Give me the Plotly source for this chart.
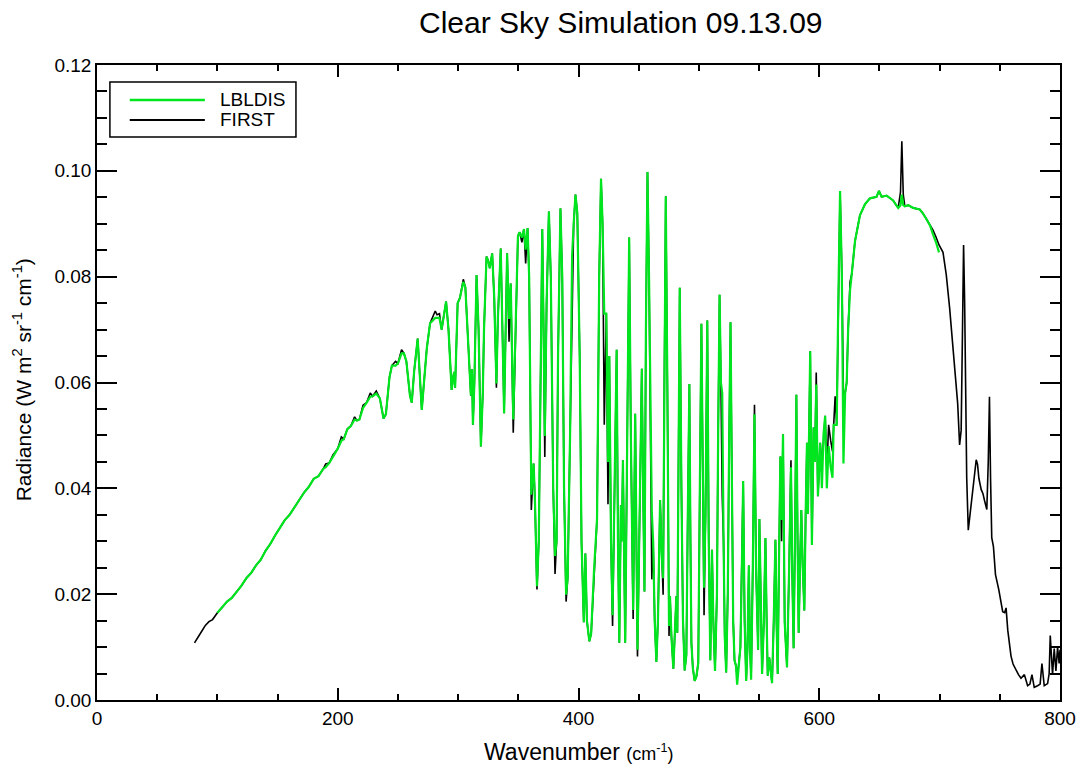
import plotly.graph_objects as go

# ---- FIRST radiance spectrum (W m^-2 sr^-1 cm^-1), read by wavenumber segment ----
# far-IR rising continuum
rise_wn = [81, 84, 87, 90, 93, 96, 100, 104, 108, 112,
           116, 120, 124, 128, 132, 136, 140, 144, 148, 152,
           156, 160, 164, 168, 172, 176, 180, 184, 188, 190,
           193, 196, 200, 203, 205, 208, 211, 214, 216, 218,
           221, 224, 227, 229]
rise_rad = [0.0108, 0.0118, 0.0130, 0.0141, 0.0148, 0.0152, 0.0165, 0.0175, 0.0186, 0.0193,
            0.0204, 0.0216, 0.0230, 0.0240, 0.0254, 0.0265, 0.0282, 0.0295, 0.0311, 0.0326,
            0.0340, 0.0350, 0.0363, 0.0378, 0.0392, 0.0403, 0.0418, 0.0423, 0.0437, 0.0446,
            0.0448, 0.0463, 0.0475, 0.0497, 0.0493, 0.0512, 0.0518, 0.0535, 0.0528, 0.0530,
            0.0557, 0.0562, 0.0580, 0.0574]

# water vapour rotational lines, 230-358 cm-1
h2o_a_wn = [232, 235, 238, 240, 243, 245, 248, 250, 253, 255,
            257, 260, 261.5, 263.5, 266.4, 268, 269.8, 272, 274, 276.7,
            279, 281, 282.5, 284.5, 286.3, 288, 290, 292, 294.6, 296,
            296.8, 297.5, 299.6, 301.5, 304.3, 306, 308, 310.6, 311.5, 312.3,
            313.5, 315.3, 317, 318.9, 320.5, 321.5, 323.6, 325, 326.3, 328.3,
            330, 331.8, 333, 335.4, 336.8, 338.2, 339.5, 340.7, 342.3, 343.7,
            345.8, 348, 349.7, 351.1, 353, 354.7, 356.1, 357.7]
h2o_a_rad = [0.0584, 0.0570, 0.0532, 0.0540, 0.0610, 0.0632, 0.0640, 0.0636, 0.0662, 0.0655,
             0.0640, 0.0575, 0.0562, 0.0622, 0.0683, 0.0620, 0.0548, 0.0610, 0.0665, 0.0712,
             0.0725, 0.0735, 0.0728, 0.0730, 0.0700, 0.0725, 0.0753, 0.0700, 0.0586, 0.0612,
             0.0620, 0.0590, 0.0750, 0.0760, 0.0795, 0.0780, 0.0700, 0.0575, 0.0625, 0.0520,
             0.0600, 0.0803, 0.0700, 0.0479, 0.0580, 0.0700, 0.0838, 0.0830, 0.0816, 0.0844,
             0.0760, 0.0590, 0.0720, 0.0853, 0.0700, 0.0542, 0.0700, 0.0844, 0.0677, 0.0787,
             0.0505, 0.0700, 0.0877, 0.0884, 0.0865, 0.0890, 0.0825, 0.0892]

# water vapour rotational lines, 359-490 cm-1
h2o_b_wn = [359, 360.8, 361.8, 362.7, 363.8, 365.5, 367, 368.5, 369.9, 371,
            372, 373.5, 375.4, 377, 378.2, 379, 380.5, 381.8, 383, 385,
            386.5, 388, 389.7, 391, 393, 394.7, 396, 397.5, 399, 401,
            402.5, 404.4, 405.7, 407, 409, 410.5, 413, 415.4, 417.2, 418.7,
            420, 421.4, 423.1, 424.5, 425.6, 427, 428.3, 430, 431.7, 432.8,
            433.9, 435.2, 436, 436.9, 438, 438.8, 440.5, 442.1, 443.5, 445.4,
            447.1, 448, 449, 450.8, 452.6, 453.7, 454.8, 456, 457.3, 458.6,
            460, 460.9, 462, 463.3, 464.7, 466, 467.8, 469, 470.3, 471.3,
            472.5, 473.8, 475.2, 476, 477.2, 478.8, 480, 481.3, 482.1, 483,
            484.1, 485.5, 486.8, 488.2, 489.6]
h2o_b_rad = [0.0800, 0.0359, 0.0420, 0.0447, 0.0380, 0.0209, 0.0300, 0.0600, 0.0890, 0.0700,
             0.0459, 0.0750, 0.0923, 0.0800, 0.0560, 0.0400, 0.0238, 0.0300, 0.0650, 0.0929,
             0.0800, 0.0400, 0.0186, 0.0230, 0.0500, 0.0740, 0.0900, 0.0955, 0.0920, 0.0650,
             0.0300, 0.0147, 0.0277, 0.0150, 0.0111, 0.0125, 0.0250, 0.0342, 0.0800, 0.0985,
             0.0900, 0.0520, 0.0730, 0.0370, 0.0650, 0.0300, 0.0140, 0.0400, 0.0662, 0.0300,
             0.0108, 0.0368, 0.0300, 0.0453, 0.0200, 0.0108, 0.0500, 0.0874, 0.0500, 0.0153,
             0.0541, 0.0250, 0.0082, 0.0350, 0.0626, 0.0400, 0.0205, 0.0700, 0.0998, 0.0800,
             0.0450, 0.0228, 0.0300, 0.0150, 0.0072, 0.0150, 0.0378, 0.0280, 0.0199, 0.0600,
             0.0952, 0.0600, 0.0121, 0.0196, 0.0120, 0.0059, 0.0120, 0.0196, 0.0127, 0.0450,
             0.0779, 0.0400, 0.0150, 0.0056, 0.0085]

# water vapour rotational lines, 490-630 cm-1
h2o_c_wn = [490.8, 492.1, 493, 493.8, 495, 496.5, 498, 499.5, 500.8, 502.1,
            503.2, 504.3, 505.5, 507, 508.2, 509.5, 510.9, 512, 513.4, 515,
            516, 517.2, 518.3, 519.4, 520.5, 521.5, 522.7, 524, 525.2, 526.3,
            527.5, 528.5, 529.6, 530.8, 531.8, 533, 534.5, 535.7, 536.8, 538,
            539.3, 540.4, 541.5, 542.5, 543.4, 544.8, 546.2, 547.5, 549.2, 550.3,
            551.4, 552.5, 554, 555.3, 556.3, 557.2, 558.5, 559.5, 560.8, 562.2,
            563.6, 564.5, 565.5, 566.5, 567.7, 568.7, 569.9, 571.3, 572.2, 573.2,
            575, 576.5, 577.5, 578.7, 579.8, 581, 582, 582.9, 584, 585.1,
            586.3, 587.6, 588.7, 589.8, 590.6, 591.5, 592.5, 593.9, 595.3, 596.4,
            597.5, 598.9, 600.8, 602.2, 603.5, 604.9, 606.3, 607.8, 609.5, 611,
            612, 613.2, 614.5, 615.8, 617.3, 618.8, 620.1, 621.5, 622.8, 624,
            625.6, 627, 629.7]
h2o_c_rad = [0.0350, 0.0597, 0.0300, 0.0108, 0.0060, 0.0036, 0.0045, 0.0070, 0.0400, 0.0711,
             0.0450, 0.0160, 0.0350, 0.0717, 0.0300, 0.0075, 0.0284, 0.0150, 0.0055, 0.0200,
             0.0500, 0.0766, 0.0600, 0.0385, 0.0300, 0.0120, 0.0052, 0.0200, 0.0500, 0.0714,
             0.0400, 0.0150, 0.0075, 0.0065, 0.0046, 0.0065, 0.0100, 0.0250, 0.0414, 0.0150,
             0.0036, 0.0100, 0.0254, 0.0100, 0.0039, 0.0250, 0.0558, 0.0250, 0.0095, 0.0342,
             0.0150, 0.0049, 0.0150, 0.0306, 0.0150, 0.0046, 0.0080, 0.0060, 0.0032, 0.0150,
             0.0303, 0.0150, 0.0049, 0.0250, 0.0460, 0.0300, 0.0502, 0.0147, 0.0100, 0.0062,
             0.0250, 0.0453, 0.0250, 0.0098, 0.0300, 0.0577, 0.0300, 0.0127, 0.0250, 0.0359,
             0.0250, 0.0169, 0.0350, 0.0486, 0.0352, 0.0500, 0.0659, 0.0293, 0.0515, 0.0450,
             0.0619, 0.0385, 0.0486, 0.0440, 0.0500, 0.0537, 0.0434, 0.0520, 0.0490, 0.0470,
             0.0520, 0.0574, 0.0520, 0.0750, 0.0962, 0.0800, 0.0571, 0.0580, 0.0600, 0.0700,
             0.0790, 0.0805, 0.0867]

# CO2 band and window edge, 630-800 cm-1
co2_wn = [633.8, 638, 642.1, 645, 647.6, 649.6, 651.8, 655.9, 661.4, 664,
          665.6, 667.5, 668.6, 669.8, 671.1, 674, 678, 683.5, 686, 689,
          692, 694.5, 697, 699.5, 702.8, 705.5, 708.3, 711.1, 713.3, 715,
          716.6, 717.9, 719, 719.9, 720.8, 721.5, 722.5, 723.8, 725.4, 727.6,
          729, 730.4, 731.5, 732.6, 734.5, 736, 737.3, 739.2, 740.4, 741.4,
          742.3, 743.3, 744.7, 746.4, 749.1, 752.4, 754, 755.2, 756.6, 759.3,
          761, 763.5, 765.5, 767.6, 770.4, 773.1, 775, 776.7, 778.6, 781.4,
          783.5, 785, 786.9, 789.7, 791, 791.9, 793, 793.8, 795.2, 796.6,
          798, 799.3, 800]
co2_rad = [0.0916, 0.0937, 0.0948, 0.0950, 0.0951, 0.0962, 0.0951, 0.0953, 0.0944, 0.0935,
           0.0930, 0.0960, 0.1056, 0.0955, 0.0933, 0.0935, 0.0930, 0.0927, 0.0920, 0.0909,
           0.0897, 0.0888, 0.0875, 0.0860, 0.0846, 0.0804, 0.0741, 0.0664, 0.0601, 0.0560,
           0.0482, 0.0510, 0.0700, 0.0860, 0.0750, 0.0587, 0.0420, 0.0321, 0.0356, 0.0391,
           0.0430, 0.0454, 0.0445, 0.0419, 0.0398, 0.0390, 0.0377, 0.0360, 0.0450, 0.0573,
           0.0420, 0.0307, 0.0290, 0.0237, 0.0209, 0.0167, 0.0165, 0.0174, 0.0132, 0.0083,
           0.0068, 0.0055, 0.0048, 0.0041, 0.0048, 0.0027, 0.0030, 0.0048, 0.0024, 0.0027,
           0.0030, 0.0069, 0.0027, 0.0031, 0.0050, 0.0122, 0.0060, 0.0048, 0.0097, 0.0055,
           0.0100, 0.0069, 0.0095]

# ---- LBLDIS: spectral limits and the samples where it departs from FIRST ----
lbldis_min_wn = 100
lbldis_max_wn = 699.5
lbldis_differs = {
    190: 0.0440, 196: 0.0460, 203: 0.0490, 214: 0.0530, 221: 0.0552,
    227: 0.0573, 232: 0.0579, 248: 0.0632, 253: 0.0655, 279: 0.0718,
    281: 0.0722, 282.5: 0.0722, 284.5: 0.0722, 304.3: 0.0790, 331.8: 0.0598,
    342.3: 0.0720, 345.8: 0.0530, 353: 0.0874, 356.1: 0.0851, 360.8: 0.0388,
    365.5: 0.0215, 372: 0.0499, 380.5: 0.0272, 389.7: 0.0199, 394.7: 0.0840,
    421.4: 0.0730, 424.5: 0.0450, 428.3: 0.0160, 445.4: 0.0170, 449: 0.0095,
    460.9: 0.0355, 470.3: 0.0230, 475.2: 0.0140, 504.3: 0.0212, 519.4: 0.0580,
    531.8: 0.0029, 546.2: 0.0540, 568.7: 0.0340, 576.5: 0.0440, 597.5: 0.0596,
    602.2: 0.0400, 606.3: 0.0400, 607.8: 0.0480, 609.5: 0.0440, 611: 0.0420,
    613.2: 0.0520, 620.1: 0.0447, 625.6: 0.0775, 667.5: 0.0935, 668.6: 0.0955,
    669.8: 0.0935, 694.5: 0.0880, 697: 0.0865, 699.5: 0.0846,
}

first_wn = rise_wn + h2o_a_wn + h2o_b_wn + h2o_c_wn + co2_wn
first_rad = rise_rad + h2o_a_rad + h2o_b_rad + h2o_c_rad + co2_rad

lbldis_wn, lbldis_rad = [], []
for w, r in zip(first_wn, first_rad):
    if lbldis_min_wn <= w <= lbldis_max_wn:
        lbldis_wn.append(w)
        lbldis_rad.append(lbldis_differs.get(w, r))

GREEN = "#00e61e"
FONT = "Liberation Sans, Arial, Helvetica, sans-serif"

fig = go.Figure()
fig.add_trace(go.Scatter(x=first_wn, y=first_rad, mode="lines", name="FIRST",
                         line=dict(color="black", width=1.6), showlegend=False))
fig.add_trace(go.Scatter(x=lbldis_wn, y=lbldis_rad, mode="lines", name="LBLDIS",
                         line=dict(color=GREEN, width=2.2), showlegend=False))

axis_common = dict(showline=True, linecolor="black", linewidth=1.5, mirror="ticks",
                   ticks="inside", tickcolor="black", tickwidth=1.5,
                   showgrid=False, zeroline=False,
                   tickfont=dict(family=FONT, size=19, color="black"))

fig.update_xaxes(range=[0, 800], tickvals=[0, 200, 400, 600, 800], ticklen=12,
                 minor=dict(ticks="inside", dtick=50, ticklen=6, tickwidth=1.5,
                            tickcolor="black", showgrid=False),
                 **axis_common)
fig.update_yaxes(range=[0, 0.12], tickvals=[0, 0.02, 0.04, 0.06, 0.08, 0.10, 0.12],
                 tickformat=".2f", ticklen=20,
                 minor=dict(ticks="inside", dtick=0.005, ticklen=10, tickwidth=1.5,
                            tickcolor="black", showgrid=False),
                 **axis_common)

# hand-drawn legend box in the upper-left corner of the plot
fig.add_shape(type="rect", xref="paper", yref="paper", x0=0.0134, x1=0.2066,
              y0=0.8866, y1=0.9732, line=dict(color="black", width=1.5),
              fillcolor="white")
fig.add_shape(type="line", xref="paper", yref="paper", x0=0.034, x1=0.112,
              y0=0.9449, y1=0.9449, line=dict(color=GREEN, width=2.5))
fig.add_shape(type="line", xref="paper", yref="paper", x0=0.034, x1=0.112,
              y0=0.9134, y1=0.9134, line=dict(color="black", width=1.8))
for label, yy in (("LBLDIS", 0.9449), ("FIRST", 0.9134)):
    fig.add_annotation(text=label, xref="paper", yref="paper", x=0.126, y=yy,
                       xanchor="left", yanchor="middle", showarrow=False,
                       font=dict(family=FONT, size=19, color="black"))

# titles
fig.add_annotation(text="Clear Sky Simulation 09.13.09", xref="paper", yref="paper",
                   x=0.544, y=1.0677, xanchor="center", yanchor="middle",
                   showarrow=False, font=dict(family=FONT, size=30, color="black"))
fig.add_annotation(text="Wavenumber <span style='font-size:18px'>(cm<sup>-1</sup>)</span>",
                   xref="paper", yref="paper", x=0.5, y=-0.082,
                   xanchor="center", yanchor="middle", showarrow=False,
                   font=dict(family=FONT, size=23, color="black"))
fig.add_annotation(text="Radiance (W m<sup>2</sup> sr<sup>-1</sup> cm<sup>-1</sup>)",
                   xref="paper", yref="paper", x=-0.0775, y=0.504, textangle=-90,
                   xanchor="center", yanchor="middle", showarrow=False,
                   font=dict(family=FONT, size=21, color="black"))

fig.update_layout(width=1088, height=769, paper_bgcolor="white", plot_bgcolor="white",
                  margin=dict(l=97, r=23, t=65, b=69), showlegend=False)

fig.write_html("out.html")
